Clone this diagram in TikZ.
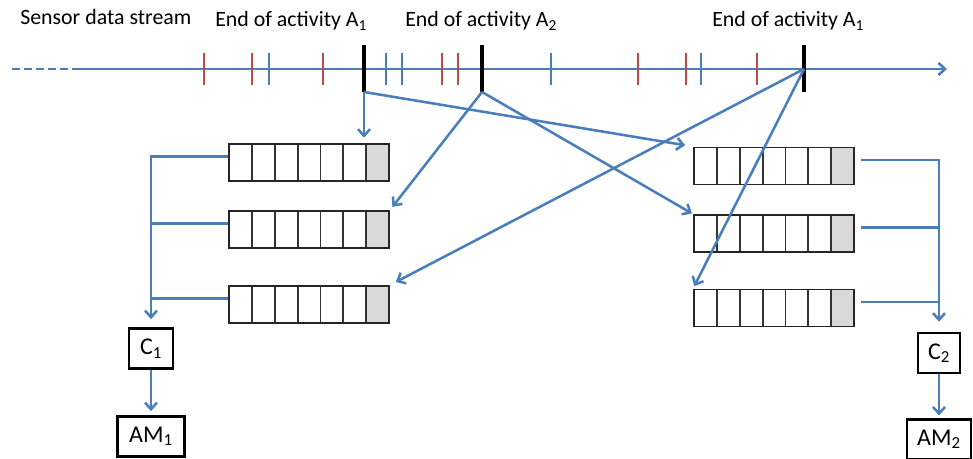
\documentclass[tikz,border=0pt]{standalone}
\usepackage{fontspec}
\setmainfont{Carlito}
\usetikzlibrary{arrows.meta,calc}

\definecolor{lineblue}{HTML}{4A7EBB}
\definecolor{tickred}{HTML}{BE4B48}
\definecolor{cellgray}{HTML}{D9D9D9}

\tikzset{
  flow/.style={draw=lineblue, line width=1.9pt, -{Straight Barb[length=5pt,width=9pt]}},
  bus/.style={draw=lineblue, line width=1.9pt},
  redtick/.style={draw=tickred, line width=1.7pt},
  bluetick/.style={draw=lineblue, line width=1.7pt},
  endtick/.style={draw=black, line width=3.2pt},
  label/.style={inner sep=0pt, anchor=base west, font=\fontsize{16.4}{19}\selectfont},
  box/.style={draw=black, line width=2pt, inner sep=0pt, minimum height=30pt, font=\fontsize{18}{20}\selectfont},
  queue/.style={draw=black!85, line width=1.4pt, inner sep=0pt, minimum width=120pt, minimum height=27.75pt,
    path picture={
      \fill[cellgray] ($(path picture bounding box.north east)!1/7!(path picture bounding box.north west)$) rectangle (path picture bounding box.south east);
      \foreach \k in {1,...,6}
        \draw[black!80, line width=1.4pt] ($(path picture bounding box.north west)!\k/7!(path picture bounding box.north east)$) -- ($(path picture bounding box.south west)!\k/7!(path picture bounding box.south east)$);
    }}
}

\begin{document}
\begin{tikzpicture}[x=0.75pt, y=-0.75pt]
  \useasboundingbox (0,0) rectangle (973,459);

  % Labels
  \node[label] (stream) at (20,25) {Sensor data stream};
  \node[label] (lab-1) at (215,27) {End of activity A\textsubscript{1}};
  \node[label] (lab-2) at (405,27) {End of activity A\textsubscript{2}};
  \node[label] (lab-3) at (712,27) {End of activity A\textsubscript{1}};

  % Data stream
  \coordinate (s-0) at (12,69);
  \coordinate (s-1) at (73,69);
  \coordinate (s-2) at (947,69);
  \draw[bus, dash pattern=on 6pt off 3pt] (s-0) -- (s-1);
  \draw[flow] (s-1) -- (s-2);

  % Sensor events
  \foreach \t in {204,252,323,442,458,638,686,757}
    \draw[redtick] (\t,53) -- (\t,85);
  \foreach \t in {269,386,402,551,701}
    \draw[bluetick] (\t,53) -- (\t,85);

  % Activity ends
  \foreach \t/\n in {364/1,482/2,804/3}
    \draw[endtick] (\t,45) -- (\t,92) coordinate (end-\n);
  \coordinate (ax-3) at (804,69);

  % Queues
  \foreach \y [count=\i] in {162.5,229.5,304.5}
    \node[queue] (lq-\i) at (309,\y) {};
  \foreach \y [count=\i] in {166,233.5,308}
    \node[queue] (rq-\i) at (774,\y) {};

  % Classifiers and models
  \node[box, minimum width=33pt] (c-1) at (151,348.5) {C\textsubscript{1}};
  \node[box, minimum width=50pt] (am-1) at (151,436.5) {AM\textsubscript{1}};
  \node[box, minimum width=31.5pt] (c-2) at (939,353) {C\textsubscript{2}};
  \node[box, minimum width=48pt] (am-2) at (939,439.5) {AM\textsubscript{2}};

  % Events into queues
  \draw[flow, shorten >=4pt] (end-1) -- (end-1 |- lq-1.north);
  \draw[flow, shorten >=6pt] (end-1) -- (rq-1.north west);
  \draw[flow, shorten >=3pt] (end-2) -- (lq-2.north east);
  \draw[flow, shorten >=1pt] (end-2) -- (rq-2.north west);
  \draw[flow, shorten >=5pt] (ax-3) -- (lq-3.north east);
  \draw[flow, shorten >=2pt] (ax-3) -- (rq-3.north west);

  % Queues to classifiers
  \draw[flow, shorten >=6pt] ($(lq-1.west)+(0,-6)$) -| (c-1.north);
  \foreach \i in {2,3}
    \draw[bus] ($(lq-\i.west)+(0,-6)$) -- ($(lq-\i.west)+(-78,-6)$);
  \draw[flow, shorten >=7.5pt] ($(rq-1.east)+(6,-6)$) -| (c-2.north);
  \foreach \i in {2,3}
    \draw[bus] ($(rq-\i.east)+(6,-6)$) -- ($(rq-\i.east)+(85,-6)$);

  \draw[flow, shorten >=3pt] (c-1) -- (am-1);
  \draw[flow, shorten >=2pt] (c-2) -- (am-2);
\end{tikzpicture}
\end{document}
